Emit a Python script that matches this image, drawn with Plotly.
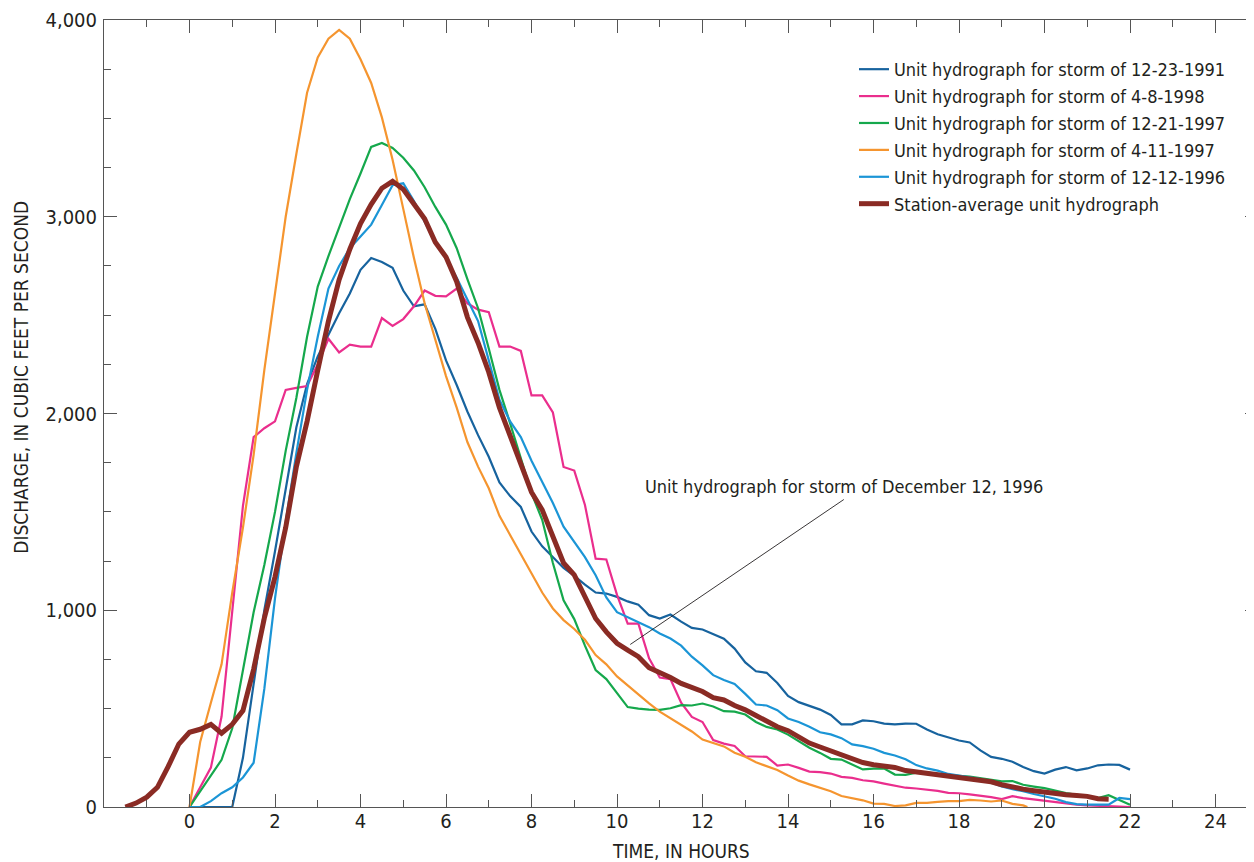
import plotly.graph_objects as go

# ---- data (time in hours, discharge in cubic feet per second) ----
t_main = [i * 0.25 for i in range(89)]  # 0 .. 22 h

q_1991 = [0, 0, 0, 0, 0, 250, 620, 1000, 1300, 1620, 1930, 2150, 2290, 2400, 2510, 2610,
          2730, 2790, 2770, 2740, 2625, 2545, 2555, 2430, 2270, 2145, 2010, 1890, 1780, 1650,
          1580, 1525, 1400, 1325, 1270, 1215, 1175, 1130, 1090, 1085, 1068, 1045, 1028, 975,
          958, 978, 942, 910, 902, 880, 855, 805, 735, 690, 682, 630, 565, 533, 512, 495,
          468, 420, 420, 440, 436, 424, 420, 424, 423, 394, 370, 352, 338, 328, 288, 255,
          245, 230, 203, 182, 170, 190, 203, 186, 196, 212, 216, 214, 190]

q_1998 = [0, 100, 200, 460, 1000, 1530, 1880, 1925, 1960, 2120, 2130, 2140, 2250, 2380, 2310, 2350,
          2340, 2340, 2485, 2445, 2480, 2545, 2625, 2598, 2595, 2635, 2560, 2528, 2515, 2340,
          2340, 2318, 2092, 2092, 2005, 1728, 1710, 1535, 1262, 1258, 1078, 932, 932, 756,
          658, 650, 530, 458, 432, 340, 322, 310, 258, 255, 255, 211, 216, 199, 180, 177,
          170, 153, 148, 136, 130, 119, 110, 98, 94, 89, 82, 72, 70, 64, 58, 50,
          40, 55, 45, 38, 30, 25, 18, 12, 8, 5, 3, 2, 0]

q_1997_12 = [0, 80, 160, 240, 400, 700, 990, 1230, 1500, 1810, 2080, 2390, 2645, 2800, 2950, 3090,
             3220, 3355, 3375, 3350, 3300, 3235, 3150, 3050, 2960, 2840, 2683, 2535, 2330, 2120,
             1950, 1770, 1595, 1460, 1240, 1050, 955, 820, 696, 650, 578, 508, 500, 495,
             494, 502, 518, 516, 526, 511, 487, 485, 470, 432, 407, 394, 368, 334, 301, 275,
             245, 241, 216, 191, 195, 195, 165, 163, 175, 175, 168, 162, 158, 154, 146, 138,
             130, 132, 113, 104, 96, 84, 71, 62, 54, 46, 60, 35, 12]

t_1997_4 = [i * 0.25 for i in range(79)] + [19.6]
q_1997_4 = [0, 330, 530, 725, 1090, 1420, 1790, 2220, 2610, 3000, 3320, 3630, 3810, 3905, 3950, 3905,
            3800, 3680, 3505, 3290, 3040, 2790, 2560, 2370, 2190, 2030, 1855, 1730, 1620, 1480,
            1383, 1290, 1187, 1090, 1009, 950, 905, 850, 772, 725, 664, 618, 570, 527,
            485, 451, 418, 384, 343, 325, 308, 276, 255, 227, 207, 188, 160, 134, 115, 97,
            80, 56, 45, 34, 17, 16, 5, 8, 21, 21, 26, 30, 30, 36, 33, 28,
            33, 16, 8, 0]

q_1996 = [0, 0, 30, 70, 100, 150, 225, 600, 1060, 1450, 1800, 2120, 2390, 2635, 2750, 2840,
          2900, 2960, 3060, 3160, 3170, 3080, 2975, 2870, 2790, 2690, 2580, 2470, 2270, 2070,
          1960, 1880, 1760, 1650, 1545, 1425, 1345, 1270, 1178, 1065, 990, 966, 938, 914,
          882, 856, 820, 764, 720, 670, 645, 625, 575, 521, 516, 492, 450, 432, 408, 380,
          369, 350, 318, 309, 296, 275, 262, 243, 213, 196, 185, 168, 160, 152, 142, 125,
          105, 90, 80, 66, 55, 42, 25, 15, 12, 12, 12, 46, 40]

t_avg = [-1.5 + i * 0.25 for i in range(93)]  # -1.5 .. 21.5 h
q_avg = [0, 20, 50, 100, 205, 320, 380, 395, 420, 375, 420, 490, 700, 960, 1170, 1420,
         1730, 1960, 2220, 2470, 2680, 2835, 2965, 3063, 3145, 3180, 3140, 3070, 2990, 2870,
         2795, 2670, 2490, 2360, 2210, 2030, 1890, 1735, 1600, 1510, 1370, 1240, 1180, 1070,
         958, 890, 832, 797, 764, 708, 685, 658, 628, 610, 587, 556, 544, 516, 494, 465,
         436, 408, 388, 358, 325, 305, 285, 262, 243, 226, 215, 211, 201, 185, 178, 175,
         168, 158, 150, 143, 136, 128, 113, 100, 91, 83, 74, 66, 62, 58, 54, 42, 40]

names = ["Unit hydrograph for storm of 12-23-1991",
         "Unit hydrograph for storm of 4-8-1998",
         "Unit hydrograph for storm of 12-21-1997",
         "Unit hydrograph for storm of 4-11-1997",
         "Unit hydrograph for storm of 12-12-1996",
         "Station-average unit hydrograph"]
colors = ["#17639e", "#ea2e8d", "#15a84c", "#f5952f", "#1b95d6", "#8a2b24"]
widths = [2.2, 2.2, 2.2, 2.2, 2.2, 5]

x_ticks = [0, 2, 4, 6, 8, 10, 12, 14, 16, 18, 20, 22, 24]
y_ticks = [0, 1000, 2000, 3000, 4000]
y_labels = ["0", "1,000", "2,000", "3,000", "4,000"]

FONT = "DejaVu Sans Condensed, Liberation Sans Narrow, Roboto, sans-serif"
TXT = "#231f20"
AX = "#555555"

# page offset (body margin) is 8 px; plot area in page pixels: x 104..1254, y 20..807.5
OFF = 8
FW, FH = 1254 - OFF, 862 - OFF
PL, PT, PW, PH = 104, 20, 1150, 787.5


def px_x(p):
    return (p - PL) / PW


def px_y(p):
    return (PT + PH - p) / PH


series = [(t_main, q_1991), (t_main, q_1998), (t_main, q_1997_12),
          (t_1997_4, q_1997_4), (t_main, q_1996), (t_avg, q_avg)]

fig = go.Figure()
for i, (tx, qy) in enumerate(series):
    fig.add_trace(go.Scatter(x=tx, y=qy, mode="lines", name=names[i],
                             legendgroup=f"g{i}",
                             line=dict(color=colors[i], width=widths[i])))
# helper trace for the right-hand tick axis
fig.add_trace(go.Scatter(x=[None], y=[None], yaxis="y2", showlegend=False, hoverinfo="skip"))

fig.update_layout(
    width=FW, height=FH,
    margin=dict(l=PL - OFF, r=0, t=PT - OFF, b=FH - (PT - OFF) - PH),
    paper_bgcolor="white", plot_bgcolor="white",
    font=dict(family=FONT, size=18, color=TXT),
    showlegend=True,
    legend=dict(x=px_x(854), xanchor="left", y=px_y(51), yanchor="top",
                bgcolor="rgba(0,0,0,0)", borderwidth=0, traceorder="grouped",
                tracegroupgap=0.5, font=dict(family=FONT, size=18, color=TXT)),
    xaxis=dict(range=[-2, 24.9], tickmode="array", tickvals=x_ticks,
               ticks="inside", ticklen=13, tickwidth=1, tickcolor=AX,
               minor=dict(tick0=0, dtick=1, ticks="inside", ticklen=7, tickcolor=AX, tickwidth=1),
               showline=True, linecolor=AX, linewidth=1, mirror="ticks",
               showgrid=False, zeroline=False, tickfont=dict(size=20),
               ticklabelstandoff=-4),
    yaxis=dict(range=[0, 4000], tickmode="array", tickvals=y_ticks, ticktext=y_labels,
               ticks="inside", ticklen=13, tickwidth=1, tickcolor=AX,
               minor=dict(tick0=0, dtick=250, ticks="inside", ticklen=7, tickcolor=AX, tickwidth=1),
               showline=True, linecolor=AX, linewidth=1, mirror=False,
               showgrid=False, zeroline=False, tickfont=dict(size=20),
               ticklabelstandoff=2),
    yaxis2=dict(range=[0, 4000], overlaying="y", side="right", anchor="x",
                tickmode="array", tickvals=y_ticks, showticklabels=False,
                ticks="inside", ticklen=9, tickwidth=1, tickcolor=AX,
                minor=dict(tick0=0, dtick=250, ticks="inside", ticklen=3, tickcolor=AX, tickwidth=1),
                showline=False, showgrid=False, zeroline=False),
)

# axis titles
fig.add_annotation(text="TIME, IN HOURS", xref="paper", yref="paper",
                   x=px_x(681), y=px_y(852),
                   xanchor="center", yanchor="middle", showarrow=False,
                   font=dict(family=FONT, size=19, color=TXT))
fig.add_annotation(text="DISCHARGE, IN CUBIC FEET PER SECOND", xref="paper", yref="paper",
                   x=px_x(21), y=px_y(378), textangle=-90,
                   xanchor="center", yanchor="middle", showarrow=False,
                   font=dict(family=FONT, size=19, color=TXT))

# callout
fig.add_annotation(x=10.31, y=826, ax=15.34, ay=1568, xref="x", yref="y",
                   axref="x", ayref="y", text="", showarrow=True,
                   arrowhead=0, arrowwidth=0.9, arrowcolor="#231f20")
fig.add_annotation(text="Unit hydrograph for storm of December 12, 1996",
                   x=10.6, y=1629, xref="x", yref="y", xanchor="left", yanchor="middle",
                   showarrow=False, font=dict(family=FONT, size=18, color=TXT))

fig.write_html("out.html")
